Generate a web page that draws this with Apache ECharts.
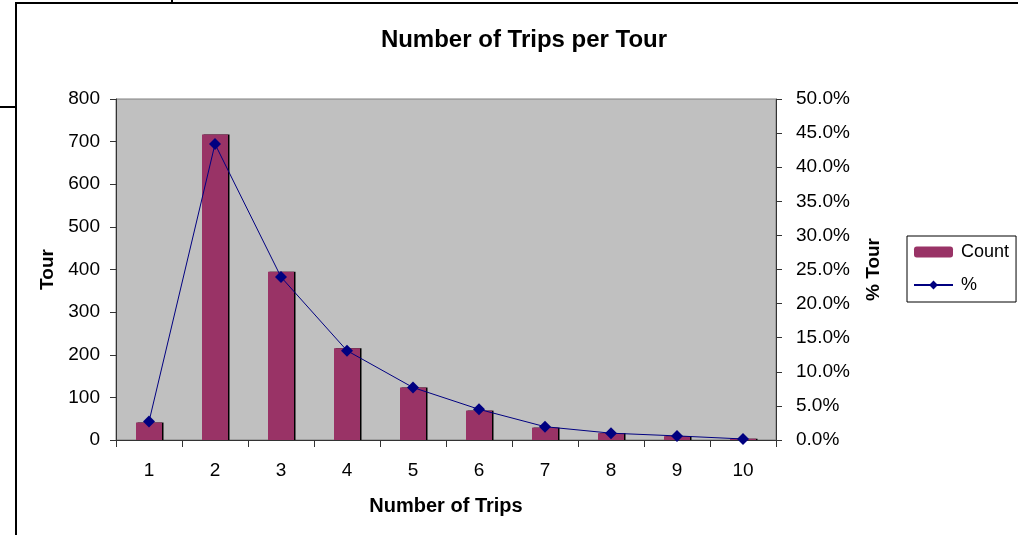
<!DOCTYPE html>
<html>
<head>
<meta charset="utf-8">
<script src="https://cdn.jsdelivr.net/npm/echarts@6/dist/echarts.min.js"></script>
<style>
html,body{margin:0;padding:0;background:#fff;}
#c{width:1018px;height:535px;}
</style>
</head>
<body>
<div id="c"></div>
<script>
var categories = ['1','2','3','4','5','6','7','8','9','10'];
var countValues = [41, 717, 395, 215, 123, 69, 29, 16, 9, 3];
var pctValues = [0.027, 0.434, 0.239, 0.131, 0.077, 0.045, 0.0195, 0.010, 0.006, 0.0015];
var leftTicks = {min: 0, max: 800, interval: 100};
var rightTicks = {min: 0, max: 0.5, interval: 0.05};

var FONT = '"Liberation Sans", Arial, sans-serif';
var chart = echarts.init(document.getElementById('c'));
chart.setOption({
  animation: false,
  backgroundColor: '#fff',
  title: {
    text: 'Number of Trips per Tour',
    left: 519, top: 23, textAlign: 'center',
    textStyle: {fontFamily: FONT, fontSize: 24, fontWeight: 'bold', color: '#000'}
  },
  grid: {
    left: 116, right: 242, top: 99, bottom: 95,
    show: true, backgroundColor: '#c0c0c0', borderColor: '#808080', borderWidth: 1
  },
  legend: {
    orient: 'vertical',
    left: 907, top: 236,
    padding: [7, 7, 8, 6],
    itemGap: 15,
    itemWidth: 39, itemHeight: 11,
    borderColor: '#000', borderWidth: 1,
    backgroundColor: '#fff',
    textStyle: {fontFamily: FONT, fontSize: 18, color: '#000', padding: [0, 0, 0, 3]},
    data: ['Count', '%']
  },
  xAxis: {
    type: 'category',
    data: categories,
    name: 'Number of Trips',
    nameLocation: 'middle',
    nameGap: 56,
    nameTextStyle: {fontFamily: FONT, fontSize: 20, fontWeight: 'bold', color: '#000'},
    axisLine: {lineStyle: {color: '#333', width: 1}},
    axisTick: {show: true, length: 7, lineStyle: {color: '#333'}},
    axisLabel: {fontFamily: FONT, fontSize: 19, color: '#000', margin: 21},
    splitLine: {show: false}
  },
  yAxis: [{
    type: 'value',
    min: leftTicks.min, max: leftTicks.max, interval: leftTicks.interval,
    name: 'Tour',
    nameLocation: 'middle',
    nameGap: 58,
    nameRotate: 90,
    nameTextStyle: {fontFamily: FONT, fontSize: 19, fontWeight: 'bold', color: '#000'},
    axisLine: {show: true, lineStyle: {color: '#333'}},
    axisTick: {show: true, length: 6, lineStyle: {color: '#333'}},
    axisLabel: {fontFamily: FONT, fontSize: 19, color: '#000', margin: 16},
    splitLine: {show: false}
  }, {
    type: 'value',
    position: 'right',
    min: rightTicks.min, max: rightTicks.max, interval: rightTicks.interval,
    name: '% Tour',
    nameLocation: 'middle',
    nameGap: 88,
    nameRotate: 90,
    nameTextStyle: {fontFamily: FONT, fontSize: 19, fontWeight: 'bold', color: '#000'},
    axisLine: {show: true, lineStyle: {color: '#333'}},
    axisTick: {show: true, length: 6, lineStyle: {color: '#333'}},
    axisLabel: {fontFamily: FONT, fontSize: 19, color: '#000', margin: 20,
      formatter: function (v) { return (v * 100).toFixed(1) + '%'; }},
    splitLine: {show: false}
  }],
  series: [{
    name: 'Count',
    type: 'bar',
    yAxisIndex: 0,
    data: countValues,
    barWidth: 26,
    itemStyle: {color: '#993366', shadowColor: '#000', shadowOffsetX: 1.5, shadowBlur: 0}
  }, {
    name: '%',
    type: 'line',
    yAxisIndex: 1,
    data: pctValues,
    symbol: 'diamond',
    symbolSize: 12,
    lineStyle: {color: '#000080', width: 1},
    itemStyle: {color: '#000080'},
    z: 5
  }],
  graphic: [
    {type: 'line', shape: {x1: 16, y1: 3, x2: 16, y2: 535}, style: {stroke: '#000', lineWidth: 2}},
    {type: 'line', shape: {x1: 15, y1: 3, x2: 1018, y2: 3}, style: {stroke: '#000', lineWidth: 2}},
    {type: 'line', shape: {x1: 172, y1: 0, x2: 172, y2: 3}, style: {stroke: '#000', lineWidth: 2}},
    {type: 'line', shape: {x1: 0, y1: 107, x2: 16, y2: 107}, style: {stroke: '#000', lineWidth: 2}}
  ]
});
</script>
</body>
</html>
